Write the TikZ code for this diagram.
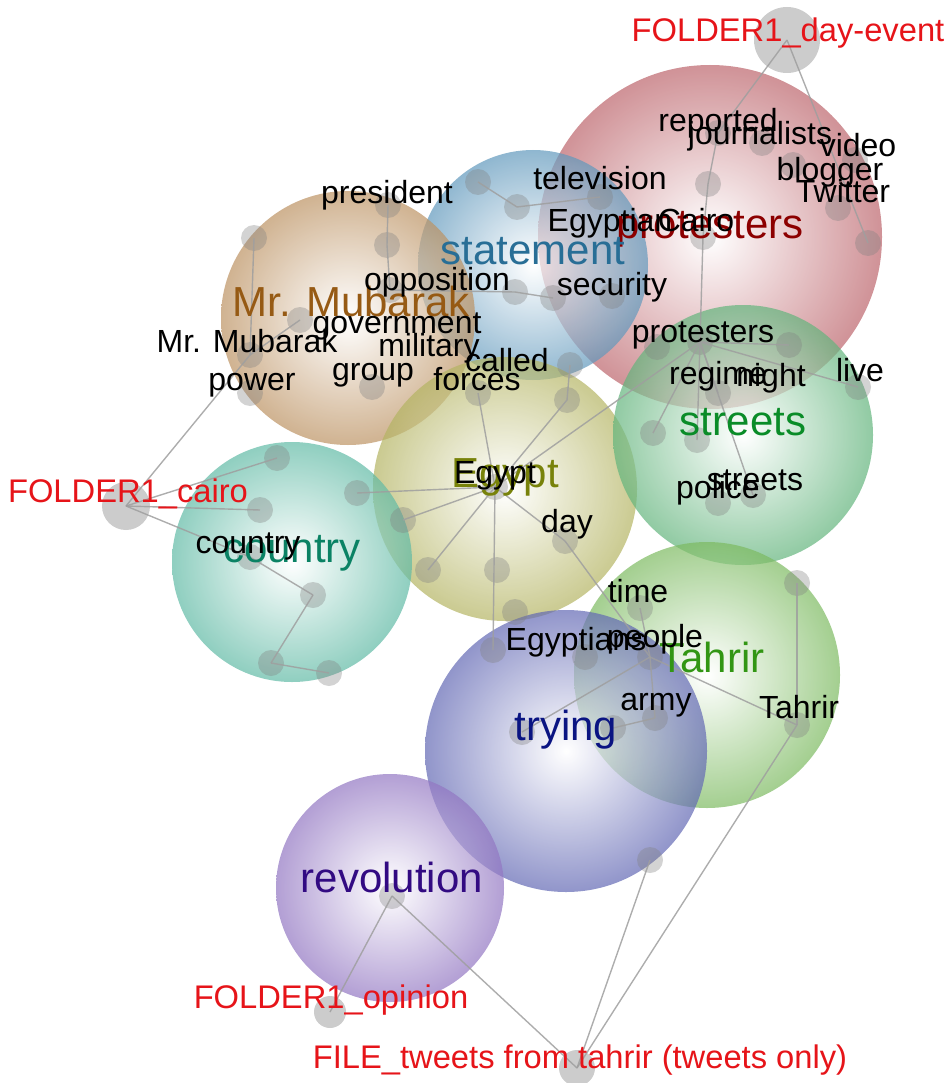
\documentclass[tikz,border=0pt]{standalone}
\usepackage{fontspec}
\setmainfont{Liberation Sans}

\definecolor{protc}{RGB}{188,100,107}
\definecolor{statc}{RGB}{96,152,188}
\definecolor{mubc}{RGB}{188,146,98}
\definecolor{egyc}{RGB}{180,180,98}
\definecolor{strc}{RGB}{98,180,124}
\definecolor{couc}{RGB}{96,186,165}
\definecolor{tahc}{RGB}{124,186,96}
\definecolor{tryc}{RGB}{98,104,180}
\definecolor{revc}{RGB}{146,118,194}
\definecolor{protl}{RGB}{140,0,0}
\definecolor{statl}{RGB}{40,110,150}
\definecolor{mubl}{RGB}{150,90,20}
\definecolor{egyl}{RGB}{120,130,10}
\definecolor{strl}{RGB}{10,140,40}
\definecolor{coul}{RGB}{10,130,100}
\definecolor{tahl}{RGB}{50,150,20}
\definecolor{tryl}{RGB}{10,20,130}
\definecolor{revl}{RGB}{50,10,130}
\definecolor{folderred}{RGB}{230,20,25}

\tikzset{
  bubble/.style={circle, inner sep=0pt, minimum size=#1pt, fill opacity=0.7, inner color=white},
  dot/.style={circle, inner sep=0pt, minimum size=26pt, fill=gray, fill opacity=0.35},
  doc/.style={circle, inner sep=0pt, minimum size=#1pt, fill=gray, fill opacity=0.4},
  link/.style={draw=gray!75, line width=1.4pt, draw opacity=0.85},
  word/.style={anchor=base, inner sep=0pt, font=\fontsize{32}{32}\selectfont},
  topic/.style={anchor=base, inner sep=0pt, font=\fontsize{42}{42}\selectfont},
  source/.style={anchor=base, inner sep=0pt, font=\fontsize{32.7}{33}\selectfont, text=folderred}
}

\begin{document}
\begin{tikzpicture}[x=1pt, y=-1pt]
  \useasboundingbox (0,0) rectangle (947,1083);

  % topic bubbles
  \node[bubble=344, outer color=protc] (protesters) at (710,237) {};
  \node[bubble=230, outer color=statc] (statement) at (533,265) {};
  \node[bubble=254, outer color=mubc] (mubarak) at (348,318) {};
  \node[bubble=264, outer color=egyc] (egypt) at (505,489) {};
  \node[bubble=260, outer color=strc] (streets) at (743,435) {};
  \node[bubble=240, outer color=couc] (country) at (292,562) {};
  \node[bubble=266, outer color=tahc] (tahrir) at (707,675) {};
  \node[bubble=282, outer color=tryc] (trying) at (566,751) {};
  \node[bubble=228, outer color=revc] (revolution) at (390,888) {};

  % sources
  \node[doc=66] (dDay) at (787,40) {};
  \node[doc=48] (dCairo) at (126,506) {};
  \node[doc=32] (dOpinion) at (330,1012) {};
  \node[doc=36] (dTweets) at (577,1068) {};

  % words
  \node[dot] (pReported) at (718,133) {};
  \node[dot] (pJournal) at (762,143) {};
  \node[dot] (pMid) at (708,184) {};
  \node[dot] (pVideo) at (855,160) {};
  \node[dot] (pBlogger) at (793,165) {};
  \node[dot] (pTwitter) at (838,208) {};
  \node[dot] (pEdge) at (868,243) {};
  \node[dot] (pCairo) at (703,237) {};
  \node[dot] (pTelevis) at (600,197) {};
  \node[dot] (pSecurity) at (612,296) {};
  \node[dot] (pHub) at (700,342) {};
  \node[dot] (pLeft) at (657,347) {};
  \node[dot] (pNight) at (789,345) {};
  \node[dot] (pRegime) at (718,393) {};
  \node[dot] (pLive) at (858,387) {};
  \node[dot] (sA) at (653,433) {};
  \node[dot] (sB) at (697,440) {};
  \node[dot] (sStreets) at (753,495) {};
  \node[dot] (sPolice) at (718,503) {};
  \node[dot] (bA) at (478,182) {};
  \node[dot] (bB) at (517,207) {};
  \node[dot] (bC) at (515,292) {};
  \node[dot] (bD) at (553,298) {};
  \node[dot] (bE) at (570,365) {};
  \node[dot] (mPres) at (388,205) {};
  \node[dot] (mB) at (387,245) {};
  \node[dot] (mOpp) at (390,290) {};
  \node[dot] (mTop) at (254,238) {};
  \node[dot] (mGov) at (300,320) {};
  \node[dot] (mMub) at (250,355) {};
  \node[dot] (mGroup) at (372,387) {};
  \node[dot] (mPower) at (250,393) {};
  \node[dot] (eHub) at (495,487) {};
  \node[dot] (eForces) at (478,393) {};
  \node[dot] (eUp) at (567,400) {};
  \node[dot] (eLeft) at (357,493) {};
  \node[dot] (eA) at (403,520) {};
  \node[dot] (eB) at (428,570) {};
  \node[dot] (eC) at (497,570) {};
  \node[dot] (eD) at (515,612) {};
  \node[dot] (eDay) at (565,541) {};
  \node[dot] (eEgyptians) at (493,650) {};
  \node[dot] (cA) at (277,458) {};
  \node[dot] (cB) at (260,510) {};
  \node[dot] (cC) at (250,557) {};
  \node[dot] (cD) at (313,595) {};
  \node[dot] (cE) at (271,663) {};
  \node[dot] (cF) at (329,673) {};
  \node[dot] (tTop) at (797,583) {};
  \node[dot] (tTime) at (640,608) {};
  \node[dot] (tPeople) at (650,657) {};
  \node[dot] (tEgyp) at (585,657) {};
  \node[dot] (tArmy) at (655,718) {};
  \node[dot] (tArmyL) at (613,728) {};
  \node[dot] (tTahrir) at (797,725) {};
  \node[dot] (yTrying) at (522,732) {};
  \node[dot] (yLow) at (650,860) {};
  \node[dot] (rRev) at (392,896) {};

  % links
  \draw[link] (dDay.center) -- (pReported.center);    % day-event -- reported
  \draw[link] (pReported.center) -- (pMid.center);
  \draw[link] (pMid.center) -- (pCairo.center);
  \draw[link] (pCairo.center) -- (pHub.center);       % Cairo -- protesters
  \draw[link] (dDay.center) -- (pEdge.center);
  \draw[link] (pHub.center) -- (pNight.center);
  \draw[link] (pHub.center) -- (pLive.center);
  \draw[link] (pHub.center) -- (pRegime.center);
  \draw[link] (pHub.center) -- (sA.center);
  \draw[link] (pHub.center) -- (sB.center);
  \draw[link] (pHub.center) -- (sStreets.center);     % protesters -- streets
  \draw[link] (pHub.center) -- (eHub.center);         % protesters -- Egypt
  \draw[link] (eHub.center) -- (eUp.center);
  \draw[link] (eUp.center) -- (bE.center);
  \draw[link] (eHub.center) -- (eForces.center);      % Egypt -- forces
  \draw[link] (eHub.center) -- (eLeft.center);
  \draw[link] (eHub.center) -- (eA.center);
  \draw[link] (eHub.center) -- (eB.center);
  \draw[link] (eHub.center) -- (eEgyptians.center);   % Egypt -- Egyptians
  \draw[link] (eHub.center) -- (eDay.center);         % Egypt -- day
  \draw[link] (eDay.center) -- (tPeople.center);      % day -- people
  \draw[link] (tTime.center) -- (tPeople.center);     % time -- people
  \draw[link] (tPeople.center) -- (yTrying.center);   % people -- trying
  \draw[link] (tPeople.center) -- (tArmy.center);     % people -- army
  \draw[link] (tArmy.center) -- (tArmyL.center);
  \draw[link] (tPeople.center) -- (tTahrir.center);   % people -- Tahrir
  \draw[link] (tTahrir.center) -- (tTop.center);
  \draw[link] (tTahrir.center) -- (dTweets.center);
  \draw[link] (yLow.center) -- (dTweets.center);
  \draw[link] (rRev.center) -- (dTweets.center);      % revolution -- tweets
  \draw[link] (rRev.center) -- (dOpinion.center);     % revolution -- opinion
  \draw[link] (dCairo.center) -- (mMub.center);       % cairo -- Mr. Mubarak
  \draw[link] (mMub.center) -- (mTop.center);
  \draw[link] (mMub.center) -- (mGov.center);
  \draw[link] (dCairo.center) -- (cA.center);
  \draw[link] (dCairo.center) -- (cB.center);
  \draw[link] (dCairo.center) -- (cC.center);         % cairo -- country
  \draw[link] (cC.center) -- (cD.center);
  \draw[link] (cD.center) -- (cE.center);
  \draw[link] (cE.center) -- (cF.center);
  \draw[link] (mPres.center) -- (mB.center);          % president -- ...
  \draw[link] (mB.center) -- (mOpp.center);
  \draw[link] (mOpp.center) -- (bC.center);           % opposition -- ...
  \draw[link] (bC.center) -- (bD.center);
  \draw[link] (bA.center) -- (bB.center);
  \draw[link] (bB.center) -- (pTelevis.center);       % ... -- television

  % topic names
  \node[topic, text=protl] (l-protesters) at (710,238) {protesters};
  \node[topic, text=statl] (l-statement) at (533,265) {statement};
  \node[topic, text=mubl] (l-mubarak) at (351,316) {Mr. Mubarak};
  \node[topic, text=egyl] (l-egypt) at (505,487) {Egypt};
  \node[topic, text=strl] (l-streets) at (743,435) {streets};
  \node[topic, text=coul] (l-country) at (292,562) {country};
  \node[topic, text=tahl] (l-tahrir) at (712,672) {Tahrir};
  \node[topic, text=tryl] (l-trying) at (566,740) {trying};
  \node[topic, text=revl] (l-revolution) at (392,892) {revolution};

  % word names
  \node[word] (w-reported) at (718,132) {reported};
  \node[word] (w-journalists) at (760,145) {journalists};
  \node[word] (w-video) at (858,157) {video};
  \node[word] (w-blogger) at (830,181) {blogger};
  \node[word] (w-twitter) at (843,203) {Twitter};
  \node[word] (w-television) at (600,190) {television};
  \node[word] (w-egyptian) at (610,232) {Egyptian};
  \node[word] (w-cairo) at (696,232) {Cairo};
  \node[word] (w-security) at (612,295) {security};
  \node[word] (w-president) at (387,204) {president};
  \node[word] (w-opposition) at (437,290) {opposition};
  \node[word] (w-government) at (397,333) {government};
  \node[word] (w-mubarak) at (247,352) {Mr. Mubarak};
  \node[word] (w-military) at (429,356) {military};
  \node[word] (w-group) at (373,380) {group};
  \node[word] (w-power) at (252,390) {power};
  \node[word] (w-called) at (507,371) {called};
  \node[word] (w-forces) at (477,390) {forces};
  \node[word] (w-protesters) at (703,342) {protesters};
  \node[word] (w-regime) at (718,384) {regime};
  \node[word] (w-night) at (771,386) {night};
  \node[word] (w-live) at (860,381) {live};
  \node[word] (w-streets) at (755,490) {streets};
  \node[word] (w-police) at (718,498) {police};
  \node[word] (w-egypt) at (495,483) {Egypt};
  \node[word] (w-day) at (567,532) {day};
  \node[word] (w-country) at (248,553) {country};
  \node[word] (w-time) at (638,602) {time};
  \node[word] (w-egyptians) at (576,650) {Egyptians};
  \node[word] (w-people) at (655,647) {people};
  \node[word] (w-army) at (656,710) {army};
  \node[word] (w-tahrir) at (799,718) {Tahrir};

  % source names
  \node[source] (s-day) at (788,42) {FOLDER1\_day-event};
  \node[source] (s-cairo) at (128,502) {FOLDER1\_cairo};
  \node[source] (s-opinion) at (331,1008) {FOLDER1\_opinion};
  \node[source] (s-tweets) at (580,1068) {FILE\_tweets from tahrir (tweets only)};
\end{tikzpicture}
\end{document}
